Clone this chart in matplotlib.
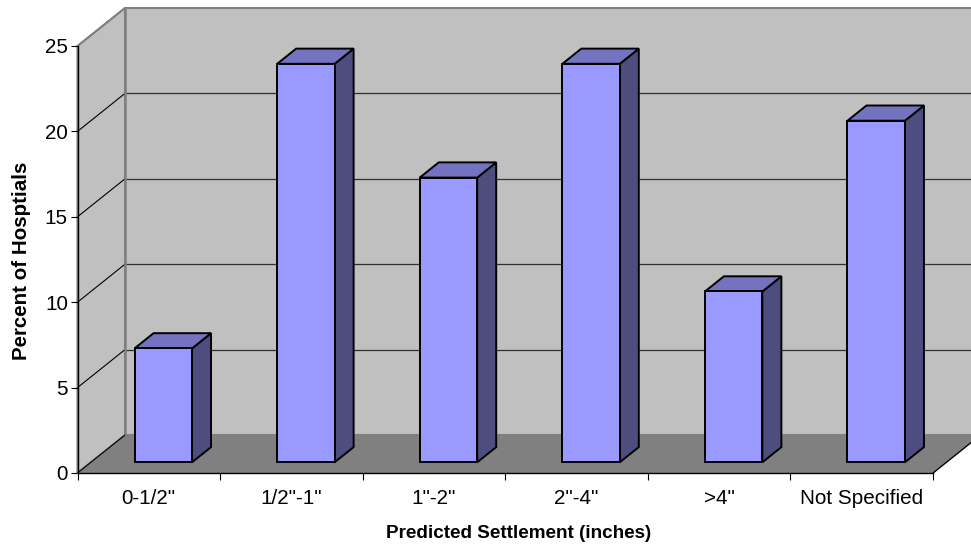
import matplotlib
matplotlib.use("Agg")
import matplotlib.pyplot as plt
from matplotlib.patches import Polygon

plt.rcParams['font.family'] = ['Liberation Sans', 'DejaVu Sans']

categories = ['0-1/2"', '1/2"-1"', '1"-2"', '2"-4"', '>4"', 'Not Specified']
percent_hospitals = [6.67, 23.33, 16.67, 23.33, 10.0, 20.0]
y_ticks = [0, 5, 10, 15, 20, 25]

W, H = 971, 546
LEFT, RIGHT, TOP, BOTTOM = 77.5, 933.0, 46.0, 473.0

fig = plt.figure(figsize=(W / 100, H / 100), dpi=100, facecolor='white')
ax = fig.add_axes([LEFT / W, 1 - BOTTOM / H, (RIGHT - LEFT) / W, (BOTTOM - TOP) / H])
ax.set_xlim(0, len(categories))
ax.set_ylim(0, 25)

# Oblique projection: one unit of depth moves a point right and up in data units
DEPTH_X = 47.5 / ((RIGHT - LEFT) / len(categories))
DEPTH_Y = 38.0 / ((BOTTOM - TOP) / 25)


def proj(x, y, d=0.0):
    return (x + d * DEPTH_X, y + d * DEPTH_Y)


def face(points, color, edge, lw, z):
    ax.add_patch(Polygon([proj(*p) for p in points], closed=True, facecolor=color,
                         edgecolor=edge, linewidth=lw, joinstyle='miter',
                         clip_on=False, zorder=z))


def line(p, q, color, lw, z):
    a, b = proj(*p), proj(*q)
    ax.plot([a[0], b[0]], [a[1], b[1]], color=color, lw=lw, clip_on=False,
            zorder=z, solid_capstyle='butt')


n = len(categories)
WALL = '#C0C0C0'
FLOOR = '#808080'
EDGE = '#808080'

# Box: back wall, side wall, floor
face([(0, 0, 1), (n, 0, 1), (n, 25, 1), (0, 25, 1)], WALL, EDGE, 1.5, 1)
face([(0, 0, 0), (0, 0, 1), (0, 25, 1), (0, 25, 0)], WALL, EDGE, 1.5, 1)
face([(0, 0, 0), (n, 0, 0), (n, 0, 1), (0, 0, 1)], FLOOR, FLOOR, 1.0, 2)

# Gridlines run across the side wall and on along the back wall
for t in y_ticks[1:-1]:
    line((0, t, 0), (0, t, 1), '#000000', 0.8, 3)
    line((0, t, 1), (n, t, 1), '#303030', 0.9, 3)
line((0, 25, 0), (0, 25, 1), EDGE, 1.2, 3)
line((0, 0, 1), (0, 25, 1), EDGE, 1.8, 3)
line((n, 0, 0), (n, 0, 1), '#000000', 0.9, 4)
line((0, 0, 0), (0, 0, 1), '#000000', 0.8, 4)

# Columns, each with front, top and side faces
BAR_W = 0.403
D0, D1 = 0.2816, 0.6816
FRONT, TOP_FACE, SIDE = '#9999FF', '#7373BF', '#4D4D80'
for i, v in enumerate(percent_hospitals):
    x0 = i + 0.5 - BAR_W / 2 + 0.008
    x1 = x0 + BAR_W
    z = 5 + i
    face([(x1, 0, D0), (x1, 0, D1), (x1, v, D1), (x1, v, D0)], SIDE, 'black', 1.4, z)
    face([(x0, v, D0), (x1, v, D0), (x1, v, D1), (x0, v, D1)], TOP_FACE, 'black', 1.4, z)
    face([(x0, 0, D0), (x1, 0, D0), (x1, v, D0), (x0, v, D0)], FRONT, 'black', 1.4, z)

# Axes furniture
for s in ('top', 'right'):
    ax.spines[s].set_visible(False)
for s in ('left', 'bottom'):
    ax.spines[s].set_linewidth(1.0)
    ax.spines[s].set_zorder(20)
ax.patch.set_visible(False)

ax.set_yticks(y_ticks)
ax.set_xticks(range(n + 1))
ax.set_xticklabels([])
ax.set_xticks([i + 0.5 for i in range(n)], categories, minor=True)
ax.tick_params(axis='x', which='major', length=5, width=0.8, direction='out')
ax.tick_params(axis='x', which='minor', length=0, pad=11.4, labelsize=14.9)
ax.tick_params(axis='y', which='major', length=5, width=0.8, direction='out', pad=2.0, labelsize=14.9)

fig.text(518.5 / W, 1 - 534 / H, 'Predicted Settlement (inches)', ha='center', va='center',
         fontsize=13.6, fontweight='bold')
fig.text(22 / W, 1 - 261 / H, 'Percent of Hosptials', ha='center', va='center',
         rotation=90, fontsize=14.8, fontweight='bold')

fig.savefig('out.png', dpi=100)
